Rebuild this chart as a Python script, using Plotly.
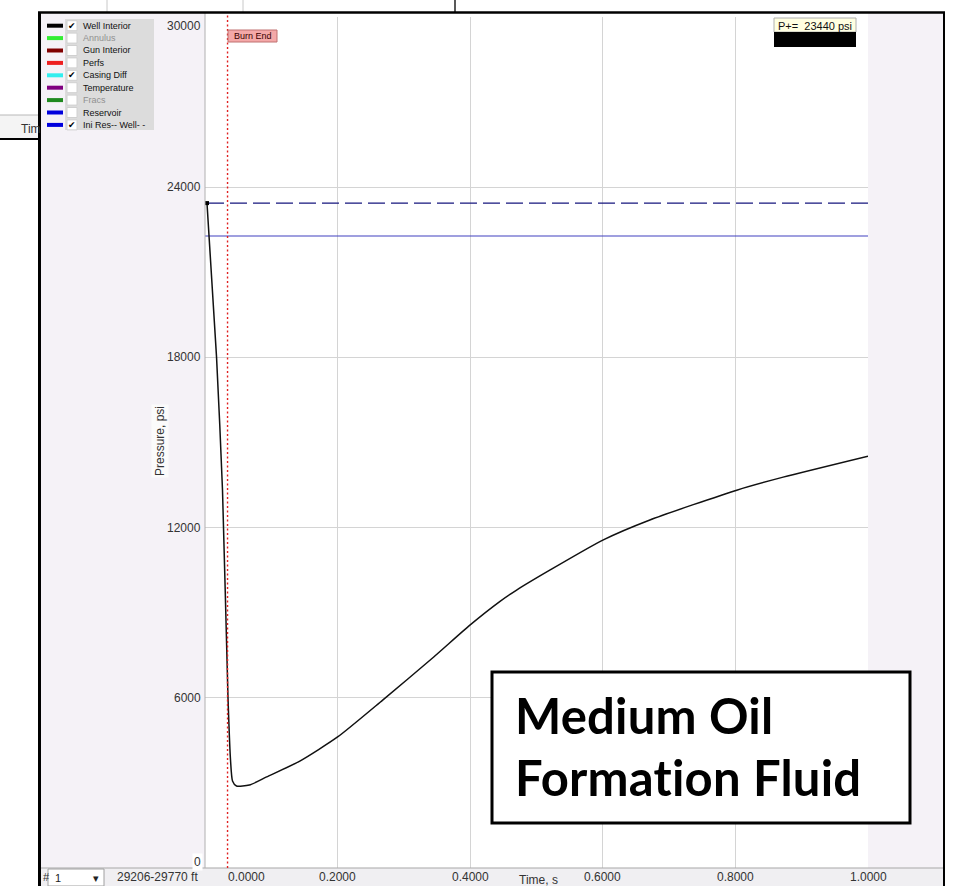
import plotly.graph_objects as go

# ---------------- data ----------------
time_s = [0.003, 0.0174, 0.0264, 0.0347, 0.0385, 0.0415, 0.0475, 0.067, 0.093, 0.143,
          0.2, 0.268, 0.345, 0.4, 0.445, 0.47, 0.52, 0.6, 0.671, 0.802, 0.872, 1.0]
well_interior_psi = [23440, 18010, 13320, 5990, 3800, 3070, 2890, 2925, 3210, 3770,
                     4620, 5920, 7440, 8570, 9400, 9800, 10500, 11560, 12270, 13320, 13780, 14520]
well_init_time = [0.003, 1.0]
well_init_psi = [23440, 23440]
res_init_time = [0.0, 1.0]
res_init_psi = [22280, 22280]
burn_end_time = 0.034
p_plus = 23440

y_ticks = [0, 6000, 12000, 18000, 24000, 30000]
x_grid = [0.2, 0.4, 0.6, 0.8, 1.0]
x_labels = ["0.2000", "0.4000", "0.6000", "0.8000", "1.0000"]

legend_names = ["Well Interior", "Annulus", "Gun Interior", "Perfs", "Casing Diff",
                "Temperature", "Fracs", "Reservoir", "Ini Res-- Well- -"]
legend_colors = ["#000000", "#33ee33", "#800000", "#ee2020", "#33eeee",
                 "#800080", "#208a20", "#0000dd", "#0000dd"]
legend_checked = [True, False, False, False, True, False, False, False, True]
legend_greyed = [False, True, False, False, False, False, True, False, False]

# ---------------- geometry helpers ----------------
W, H = 956, 886
L, R, T, B = 205, 88, 17, 18
PW, PH = W - L - R, H - T - B


def px(x):
    return (x - L) / PW


def py(y):
    return (H - B - y) / PH


shapes = []
annos = []
ARIAL = "Arial, Liberation Sans, sans-serif"


def rect(x0, y0, x1, y1, fill, line=None, lw=1, layer="below"):
    shapes.append(dict(type="rect", xref="paper", yref="paper",
                       x0=px(x0), x1=px(x1), y0=py(y1), y1=py(y0),
                       fillcolor=fill, layer=layer,
                       line=dict(color=line or fill, width=lw if line else 0)))


def seg(x0, y0, x1, y1, color, lw=1, layer="above", dash=None):
    d = dict(color=color, width=lw)
    if dash:
        d["dash"] = dash
    shapes.append(dict(type="line", xref="paper", yref="paper",
                       x0=px(x0), x1=px(x1), y0=py(y0), y1=py(y1),
                       layer=layer, line=d))


def text(x, y, s, size=12, color="#222", xanchor="left", yanchor="middle", **kw):
    annos.append(dict(xref="paper", yref="paper", x=px(x), y=py(y), text=s,
                      showarrow=False, xanchor=xanchor, yanchor=yanchor,
                      font=dict(family=kw.pop("family", ARIAL), size=size, color=color), **kw))


# ---------------- figure ----------------
fig = go.Figure()
fig.add_trace(go.Scatter(x=res_init_time, y=res_init_psi, mode="lines",
                         line=dict(color="#4040c0", width=1.2), hoverinfo="skip"))
fig.add_trace(go.Scatter(x=well_init_time, y=well_init_psi, mode="lines",
                         line=dict(color="#16167e", width=1.4, dash="17px,6px"), hoverinfo="skip"))
fig.add_trace(go.Scatter(x=time_s, y=well_interior_psi, mode="lines",
                         line=dict(color="#111111", width=1.5, shape="spline", smoothing=0.6),
                         hoverinfo="skip"))
fig.add_trace(go.Scatter(x=time_s[:1], y=well_interior_psi[:1], mode="markers",
                         marker=dict(color="#000", size=4, symbol="square"), hoverinfo="skip"))

# background window pieces (behind)
seg(107, 0, 107, 12, "#c8c8c8", 1)
seg(243, 0, 243, 12, "#c8c8c8", 1)
seg(455, 0, 455, 12, "#222222", 1.5)
rect(0, 115, 38, 139, "#f4f4f4")
seg(0, 115, 38, 115, "#b8b8b8", 1)
seg(0, 139, 38, 139, "#000000", 2)
text(19, 129, "Tim", 12, "#333")

# panels of the main window
rect(40, 13, 205, 868, "#f5f2f7")
rect(868, 13, 943, 868, "#f5f2f7")
rect(40, 868, 943, 886, "#f0eff2")
seg(40, 868, 943, 868, "#a8a8a8", 1.2)
seg(L, 13, L, 868, "#b0b0b0", 1)

# window border
seg(38, 12.5, 945, 12.5, "#000000", 2.5)
seg(39.5, 12, 39.5, 886, "#000000", 3)
seg(944, 12, 944, 886, "#000000", 2)

# legend panel
rect(65, 19, 154, 130, "#dcdcdc", layer="above")
for i, name in enumerate(legend_names):
    yc = 25.7 + i * 12.4
    seg(47, yc, 63, yc, legend_colors[i], 4)
    rect(67, yc - 5, 77, yc + 5, "#ffffff", "#d0d0d0", 1, layer="above")
    if legend_checked[i]:
        text(72, yc, "✔", 9, "#000", xanchor="center", family="DejaVu Sans")
    text(81, yc, name, 9, "#909090" if legend_greyed[i] else "#111")

# y tick labels
for v in y_ticks:
    shift = -9 if v == max(y_ticks) else (6 if v == 0 else 0)
    annos.append(dict(xref="paper", yref="y", x=px(203), y=v, yshift=shift,
                      text=f"{v}", showarrow=False, xanchor="right", yanchor="middle",
                      bgcolor="#ffffff" if v == 0 else None,
                      font=dict(family=ARIAL, size=12, color="#333")))
text(160, 441, "Pressure, psi", 12, "#333", xanchor="center", textangle=-90,
     bgcolor="#fbfbfb")

# x tick labels
text(246, 877, "0.0000", 12, "#333", xanchor="center")
for v, lab in zip(x_grid, x_labels):
    annos.append(dict(xref="x", yref="paper", x=v, y=py(877), text=lab, showarrow=False,
                      xanchor="center", yanchor="middle",
                      font=dict(family=ARIAL, size=12, color="#333")))
text(538, 879.5, "Time, s", 12, "#333", xanchor="center")

# bottom bar controls
text(41, 877, "#", 11, "#333")
rect(48, 869, 104, 886, "#ffffff", "#a0a0a0", 1, layer="above")
text(53, 878, "1", 11, "#222")
text(96, 878, "▾", 11, "#222", xanchor="center", family="DejaVu Sans")
text(157, 877, "29206-29770 ft", 12, "#333", xanchor="center")

# Burn End marker
shapes.append(dict(type="line", xref="x", yref="paper", x0=burn_end_time, x1=burn_end_time,
                   y0=0, y1=py(13), layer="above",
                   line=dict(color="#e02020", width=1.4, dash="2px,2.5px")))
rect(228, 30, 277, 42, "#f4a8a8", "#c07070", 1, layer="above")
text(252.5, 36, "Burn End", 9, "#3a0000", xanchor="center")

# P+= readout
rect(774, 18, 856, 32, "#ffffe1", "#b0b0b0", 1, layer="above")
text(815, 25.5, f"P+=\u00a0\u00a0{p_plus} psi", 11, "#111", xanchor="center")
rect(774, 32, 856, 47, "#000000", layer="above")

# annotation box
rect(492, 672, 910, 823, "#ffffff", "#000000", 3, layer="above")
BOX_FONT = "Lato, Carlito, sans-serif"
text(513, 715, "<b><span style='letter-spacing:0.2px'>Medium Oil</span></b>", 49, "#000",
     family=BOX_FONT)
text(513, 776.5, "<b><span style='letter-spacing:0.2px'>Formation Fluid</span></b>", 49, "#000",
     family=BOX_FONT)

fig.update_layout(
    width=W, height=H,
    margin=dict(l=L, r=R, t=T, b=B, pad=0),
    paper_bgcolor="#ffffff", plot_bgcolor="#ffffff",
    showlegend=False,
    shapes=shapes, annotations=annos,
    xaxis=dict(range=[0, 1], tickvals=x_grid, showticklabels=False, ticks="",
               showgrid=True, gridcolor="#d4d4d4", gridwidth=1, zeroline=False,
               showline=False, fixedrange=True),
    yaxis=dict(range=[0, 30000], tickvals=y_ticks[1:-1], showticklabels=False, ticks="",
               showgrid=True, gridcolor="#d4d4d4", gridwidth=1, zeroline=False,
               showline=False, fixedrange=True),
)

fig.write_html("out.html")
